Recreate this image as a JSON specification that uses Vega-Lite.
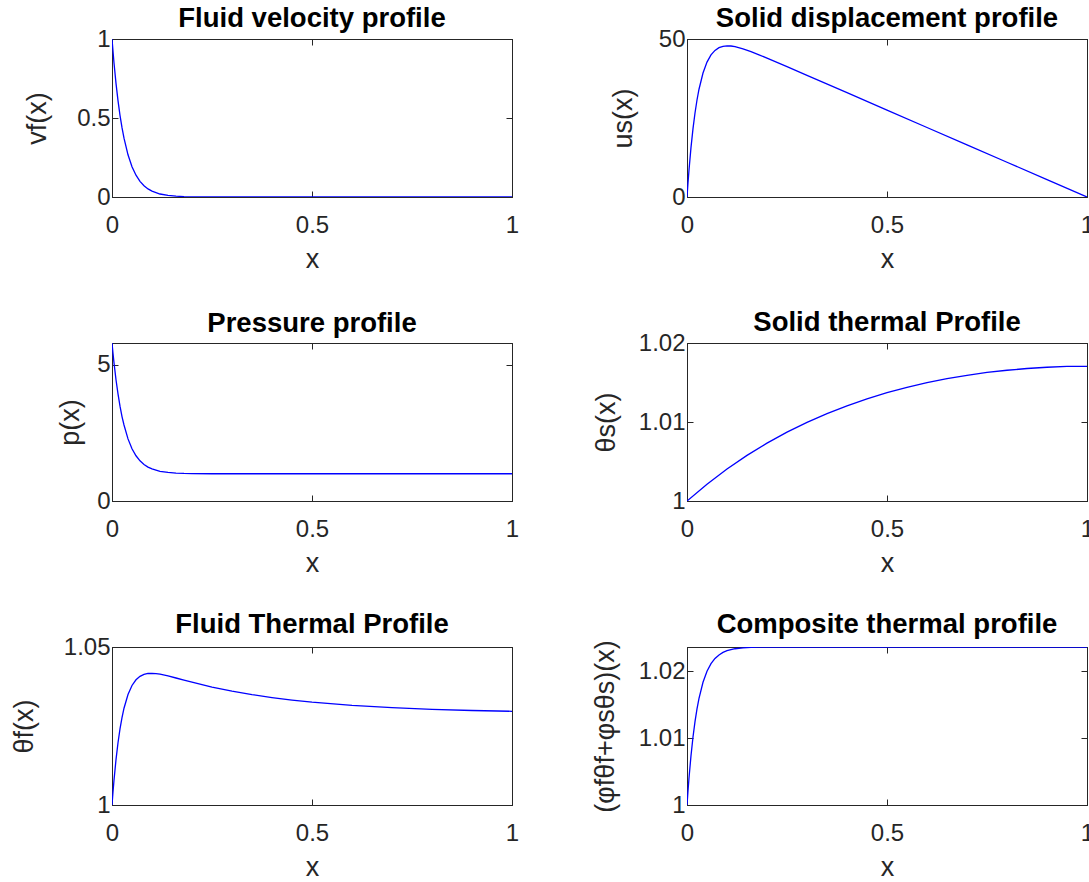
{
  "$schema": "https://vega.github.io/schema/vega-lite/v6.json",
  "padding": {"left": 9, "top": 4, "right": 5, "bottom": 5},
  "background": "white",
  "datasets": {
    "vf": [{"x":0,"y":1},{"x":0.005,"y":0.848},{"x":0.01,"y":0.719},{"x":0.015,"y":0.61},{"x":0.02,"y":0.517},{"x":0.025,"y":0.439},{"x":0.03,"y":0.372},{"x":0.04,"y":0.267},{"x":0.05,"y":0.192},{"x":0.06,"y":0.138},{"x":0.07,"y":0.099},{"x":0.08,"y":0.071},{"x":0.09,"y":0.051},{"x":0.1,"y":0.037},{"x":0.12,"y":0.019},{"x":0.14,"y":0.0099},{"x":0.16,"y":0.0051},{"x":0.18,"y":0.0026},{"x":0.2,"y":0.0014},{"x":0.25,"y":0.0003},{"x":0.3,"y":0},{"x":0.5,"y":0},{"x":0.75,"y":0},{"x":1,"y":0}],
    "us": [{"x":0,"y":0},{"x":0.0025,"y":4.47},{"x":0.005,"y":8.55},{"x":0.01,"y":15.69},{"x":0.015,"y":21.64},{"x":0.02,"y":26.59},{"x":0.025,"y":30.7},{"x":0.03,"y":34.1},{"x":0.04,"y":39.24},{"x":0.05,"y":42.69},{"x":0.06,"y":44.96},{"x":0.07,"y":46.4},{"x":0.08,"y":47.26},{"x":0.09,"y":47.69},{"x":0.1,"y":47.84},{"x":0.11,"y":47.78},{"x":0.12,"y":47.57},{"x":0.14,"y":46.89},{"x":0.16,"y":46.0},{"x":0.18,"y":45.0},{"x":0.2,"y":43.95},{"x":0.25,"y":41.25},{"x":0.3,"y":38.5},{"x":0.4,"y":33.0},{"x":0.5,"y":27.5},{"x":0.6,"y":22.0},{"x":0.7,"y":16.5},{"x":0.8,"y":11.0},{"x":0.9,"y":5.5},{"x":1,"y":0}],
    "p": [{"x":0,"y":5.8},{"x":0.0025,"y":5.42},{"x":0.005,"y":5.07},{"x":0.01,"y":4.45},{"x":0.015,"y":3.93},{"x":0.02,"y":3.48},{"x":0.025,"y":3.1},{"x":0.03,"y":2.79},{"x":0.04,"y":2.28},{"x":0.05,"y":1.92},{"x":0.06,"y":1.66},{"x":0.07,"y":1.475},{"x":0.08,"y":1.34},{"x":0.09,"y":1.245},{"x":0.1,"y":1.178},{"x":0.12,"y":1.091},{"x":0.14,"y":1.048},{"x":0.16,"y":1.024},{"x":0.18,"y":1.012},{"x":0.2,"y":1.0065},{"x":0.25,"y":1.001},{"x":0.3,"y":1.0},{"x":0.5,"y":1.0},{"x":0.75,"y":1.0},{"x":1,"y":1.0}],
    "ths": [{"x":0,"y":1},{"x":0.05,"y":1.00212},{"x":0.1,"y":1.00404},{"x":0.15,"y":1.00577},{"x":0.2,"y":1.00732},{"x":0.25,"y":1.00871},{"x":0.3,"y":1.00995},{"x":0.35,"y":1.01106},{"x":0.4,"y":1.01205},{"x":0.45,"y":1.01293},{"x":0.5,"y":1.01371},{"x":0.55,"y":1.01438},{"x":0.6,"y":1.01497},{"x":0.65,"y":1.01548},{"x":0.7,"y":1.01591},{"x":0.75,"y":1.01627},{"x":0.8,"y":1.01655},{"x":0.85,"y":1.01677},{"x":0.9,"y":1.01693},{"x":0.95,"y":1.01703},{"x":1,"y":1.01705}],
    "thf": [{"x":0,"y":1},{"x":0.0025,"y":1.00411},{"x":0.005,"y":1.00786},{"x":0.01,"y":1.01435},{"x":0.015,"y":1.01969},{"x":0.02,"y":1.02408},{"x":0.025,"y":1.02768},{"x":0.03,"y":1.03063},{"x":0.04,"y":1.03498},{"x":0.05,"y":1.03782},{"x":0.06,"y":1.03963},{"x":0.07,"y":1.04073},{"x":0.08,"y":1.04135},{"x":0.09,"y":1.04162},{"x":0.1,"y":1.04168},{"x":0.11,"y":1.04159},{"x":0.12,"y":1.0414},{"x":0.14,"y":1.04085},{"x":0.16,"y":1.04019},{"x":0.18,"y":1.03951},{"x":0.2,"y":1.03885},{"x":0.25,"y":1.03733},{"x":0.3,"y":1.03603},{"x":0.35,"y":1.03493},{"x":0.4,"y":1.03401},{"x":0.45,"y":1.03322},{"x":0.5,"y":1.03256},{"x":0.6,"y":1.03154},{"x":0.7,"y":1.03081},{"x":0.8,"y":1.03029},{"x":0.9,"y":1.02991},{"x":1,"y":1.02965}],
    "comp": [{"x":0,"y":1},{"x":0.0025,"y":1.00211},{"x":0.005,"y":1.00404},{"x":0.01,"y":1.00738},{"x":0.015,"y":1.01015},{"x":0.02,"y":1.01245},{"x":0.025,"y":1.01436},{"x":0.03,"y":1.01594},{"x":0.04,"y":1.01833},{"x":0.05,"y":1.01998},{"x":0.06,"y":1.02111},{"x":0.07,"y":1.02189},{"x":0.08,"y":1.02242},{"x":0.09,"y":1.02279},{"x":0.1,"y":1.02305},{"x":0.12,"y":1.02334},{"x":0.14,"y":1.02348},{"x":0.16,"y":1.02354},{"x":0.18,"y":1.02358},{"x":0.2,"y":1.02359},{"x":0.3,"y":1.0236},{"x":0.5,"y":1.0236},{"x":0.75,"y":1.0236},{"x":1,"y":1.0236}]
  },
  "columns": 2,
  "spacing": {"row": 146, "column": 175},
  "bounds": "flush",
  "concat": [
    {
      "width": 400, "height": 158,
      "title": "Fluid velocity profile",
      "data": {"name": "vf"},
      "layer": [
        {"mark": {"type": "line", "color": "#0000ff", "strokeWidth": 1.3, "clip": true},
         "encoding": {
           "x": {"field": "x", "type": "quantitative", "scale": {"domain": [0, 1], "nice": false}, "axis": {"values": [0, 0.5, 1], "format": "~f", "title": "x"}},
           "y": {"field": "y", "type": "quantitative", "scale": {"domain": [0, 1], "nice": false}, "axis": {"values": [0, 0.5, 1], "format": "~f", "title": "vf(x)", "titleX": -67}}
         }},
        {"mark": {"type": "line", "opacity": 0},
         "encoding": {
           "x": {"field": "x", "type": "quantitative", "axis": {"orient": "top", "values": [0, 0.5, 1], "labels": false, "title": null}},
           "y": {"field": "y", "type": "quantitative", "axis": {"orient": "right", "values": [0, 0.5, 1], "labels": false, "title": null}}
         }}
      ],
      "resolve": {"axis": {"x": "independent", "y": "independent"}}
    },
    {
      "width": 400, "height": 158,
      "title": "Solid displacement profile",
      "data": {"name": "us"},
      "layer": [
        {"mark": {"type": "line", "color": "#0000ff", "strokeWidth": 1.3, "clip": true},
         "encoding": {
           "x": {"field": "x", "type": "quantitative", "scale": {"domain": [0, 1], "nice": false}, "axis": {"values": [0, 0.5, 1], "format": "~f", "title": "x"}},
           "y": {"field": "y", "type": "quantitative", "scale": {"domain": [0, 50], "nice": false}, "axis": {"values": [0, 50], "format": "~f", "title": "us(x)", "titleX": -56}}
         }},
        {"mark": {"type": "line", "opacity": 0},
         "encoding": {
           "x": {"field": "x", "type": "quantitative", "axis": {"orient": "top", "values": [0, 0.5, 1], "labels": false, "title": null}},
           "y": {"field": "y", "type": "quantitative", "axis": {"orient": "right", "values": [0, 50], "labels": false, "title": null}}
         }}
      ],
      "resolve": {"axis": {"x": "independent", "y": "independent"}}
    },
    {
      "width": 400, "height": 158,
      "title": {"text": "Pressure profile", "offset": 5},
      "data": {"name": "p"},
      "layer": [
        {"mark": {"type": "line", "color": "#0000ff", "strokeWidth": 1.3, "clip": true},
         "encoding": {
           "x": {"field": "x", "type": "quantitative", "scale": {"domain": [0, 1], "nice": false}, "axis": {"values": [0, 0.5, 1], "format": "~f", "title": "x"}},
           "y": {"field": "y", "type": "quantitative", "scale": {"domain": [0, 5.8], "nice": false}, "axis": {"values": [0, 5], "format": "~f", "title": "p(x)", "titleX": -34}}
         }},
        {"mark": {"type": "line", "opacity": 0},
         "encoding": {
           "x": {"field": "x", "type": "quantitative", "axis": {"orient": "top", "values": [0, 0.5, 1], "labels": false, "title": null}},
           "y": {"field": "y", "type": "quantitative", "axis": {"orient": "right", "values": [0, 5], "labels": false, "title": null}}
         }}
      ],
      "resolve": {"axis": {"x": "independent", "y": "independent"}}
    },
    {
      "width": 400, "height": 158,
      "title": "Solid thermal Profile",
      "data": {"name": "ths"},
      "layer": [
        {"mark": {"type": "line", "color": "#0000ff", "strokeWidth": 1.3, "clip": true},
         "encoding": {
           "x": {"field": "x", "type": "quantitative", "scale": {"domain": [0, 1], "nice": false}, "axis": {"values": [0, 0.5, 1], "format": "~f", "title": "x"}},
           "y": {"field": "y", "type": "quantitative", "scale": {"domain": [1, 1.02], "nice": false, "zero": false}, "axis": {"values": [1, 1.01, 1.02], "format": "~f", "title": "θs(x)", "titleX": -73}}
         }},
        {"mark": {"type": "line", "opacity": 0},
         "encoding": {
           "x": {"field": "x", "type": "quantitative", "axis": {"orient": "top", "values": [0, 0.5, 1], "labels": false, "title": null}},
           "y": {"field": "y", "type": "quantitative", "axis": {"orient": "right", "values": [1, 1.01, 1.02], "labels": false, "title": null}}
         }}
      ],
      "resolve": {"axis": {"x": "independent", "y": "independent"}}
    },
    {
      "width": 400, "height": 158,
      "title": {"text": "Fluid Thermal Profile", "offset": -3},
      "data": {"name": "thf"},
      "layer": [
        {"mark": {"type": "line", "color": "#0000ff", "strokeWidth": 1.3, "clip": true},
         "encoding": {
           "x": {"field": "x", "type": "quantitative", "scale": {"domain": [0, 1], "nice": false}, "axis": {"values": [0, 0.5, 1], "format": "~f", "title": "x"}},
           "y": {"field": "y", "type": "quantitative", "scale": {"domain": [1, 1.05], "nice": false, "zero": false}, "axis": {"values": [1, 1.05], "format": "~f", "title": "θf(x)", "titleX": -80}}
         }},
        {"mark": {"type": "line", "opacity": 0},
         "encoding": {
           "x": {"field": "x", "type": "quantitative", "axis": {"orient": "top", "values": [0, 0.5, 1], "labels": false, "title": null}},
           "y": {"field": "y", "type": "quantitative", "axis": {"orient": "right", "values": [1, 1.05], "labels": false, "title": null}}
         }}
      ],
      "resolve": {"axis": {"x": "independent", "y": "independent"}}
    },
    {
      "width": 400, "height": 158,
      "title": {"text": "Composite thermal profile", "offset": 1},
      "data": {"name": "comp"},
      "layer": [
        {"mark": {"type": "line", "color": "#0000ff", "strokeWidth": 1.3, "clip": true},
         "encoding": {
           "x": {"field": "x", "type": "quantitative", "scale": {"domain": [0, 1], "nice": false}, "axis": {"values": [0, 0.5, 1], "format": "~f", "title": "x"}},
           "y": {"field": "y", "type": "quantitative", "scale": {"domain": [1, 1.0236], "nice": false, "zero": false}, "axis": {"values": [1, 1.01, 1.02], "format": "~f", "title": "(φfθf+φsθs)(x)", "titleX": -74}}
         }},
        {"mark": {"type": "line", "opacity": 0},
         "encoding": {
           "x": {"field": "x", "type": "quantitative", "axis": {"orient": "top", "values": [0, 0.5, 1], "labels": false, "title": null}},
           "y": {"field": "y", "type": "quantitative", "axis": {"orient": "right", "values": [1, 1.01, 1.02], "labels": false, "title": null}}
         }}
      ],
      "resolve": {"axis": {"x": "independent", "y": "independent"}}
    }
  ],
  "config": {
    "font": "Liberation Sans",
    "view": {"stroke": "#262626", "strokeWidth": 1},
    "axis": {
      "grid": false,
      "domainColor": "#262626",
      "tickColor": "#262626",
      "tickSize": -6,
      "labelColor": "#262626",
      "titleColor": "#262626",
      "labelFont": "Liberation Sans",
      "titleFont": "Liberation Sans",
      "labelFontSize": 24,
      "titleFontSize": 27,
      "titleFontWeight": "normal"
    },
    "axisX": {"labelPadding": 22, "titleY": 70, "titleBaseline": "alphabetic", "labelFlush": false},
    "axisY": {"labelPadding": 8, "titleBaseline": "alphabetic", "labelFlush": false},
    "title": {"font": "Liberation Sans", "fontSize": 27.5, "fontWeight": "bold", "color": "black", "frame": "group", "offset": -5}
  }
}
